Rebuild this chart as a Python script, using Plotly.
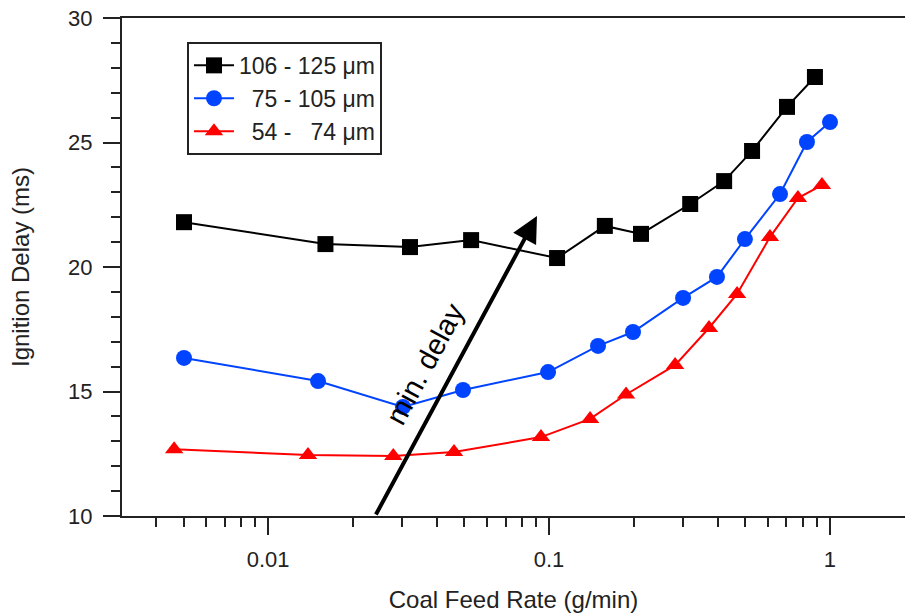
import plotly.graph_objects as go
import math

# ---- data ----
feed_106_125 = [0.00502, 0.0160, 0.0320, 0.0528, 0.1068, 0.158, 0.2125, 0.318, 0.420, 0.528, 0.703, 0.884]
delay_106_125 = [21.8, 20.92, 20.80, 21.08, 20.36, 21.65, 21.33, 22.53, 23.45, 24.66, 26.43, 27.63]

feed_75_105 = [0.00502, 0.01506, 0.0302, 0.0494, 0.0992, 0.1494, 0.199, 0.300, 0.396, 0.498, 0.664, 0.828, 1.0]
delay_75_105 = [16.35, 15.42, 14.38, 15.06, 15.78, 16.83, 17.39, 18.76, 19.60, 21.12, 22.93, 25.02, 25.82]

feed_54_74 = [0.00463, 0.01387, 0.0279, 0.0459, 0.0936, 0.140, 0.188, 0.281, 0.371, 0.467, 0.6115, 0.769, 0.9365]
delay_54_74 = [12.68, 12.45, 12.41, 12.57, 13.17, 13.90, 14.88, 16.06, 17.55, 18.92, 21.20, 22.77, 23.29]

series_names = ["106 - 125 \u03bcm", "\u00a0\u00a075 - 105 \u03bcm", "\u00a0\u00a054 -\u00a0\u00a0 74 \u03bcm"]

x_tick_vals = [0.01, 0.1, 1]
x_tick_text = ["0.01", "0.1", "1"]
y_tick_vals = [10, 15, 20, 25, 30]

arrow_tail = (0.02404, 10.0)
arrow_head = (0.0906, 22.05)
arrow_label = "min. delay"
arrow_label_pos = (0.0362, 16.1)

FONT = "Arial, Liberation Sans, sans-serif"

fig = go.Figure()
styles = [
    ("#000000", "square"),
    ("#0044ff", "circle"),
    ("#ff0000", "triangle-up"),
]
for (xs, ys), name, (col, sym) in zip(
    [(feed_106_125, delay_106_125), (feed_75_105, delay_75_105), (feed_54_74, delay_54_74)],
    series_names, styles):
    fig.add_trace(go.Scatter(
        x=xs, y=ys, name=name, mode="lines+markers",
        line=dict(color=col, width=2),
        marker=dict(symbol=sym, size=16, color=col),
    ))

minor_x = []
for dec in [0.001, 0.01, 0.1, 1]:
    for k in range(2, 10):
        minor_x.append(dec * k)

fig.update_xaxes(
    type="log", range=[-2.52, 0.267],
    tickmode="array", tickvals=x_tick_vals, ticktext=x_tick_text,
    ticks="outside", ticklen=17, tickwidth=2, tickcolor="#222",
    showline=True, linecolor="#222", linewidth=2, mirror=True,
    showgrid=False, zeroline=False,
    tickfont=dict(family=FONT, size=22, color="#222"),
    ticklabelstandoff=6,
    minor=dict(tickmode="array", tickvals=minor_x, ticks="outside", ticklen=9,
               tickwidth=2, tickcolor="#222", showgrid=False),
    title=dict(text="Coal Feed Rate (g/min)", font=dict(family=FONT, size=24, color="#222"), standoff=20),
)
fig.update_yaxes(
    range=[10, 30],
    tickmode="array", tickvals=y_tick_vals,
    ticks="outside", ticklen=17, tickwidth=2, tickcolor="#222",
    showline=True, linecolor="#222", linewidth=2, mirror=False,
    showgrid=False, zeroline=False,
    tickfont=dict(family=FONT, size=22, color="#222"),
    ticklabelstandoff=6,
    minor=dict(dtick=1, ticks="outside", ticklen=9, tickwidth=2, tickcolor="#222", showgrid=False),
    title=dict(text="Ignition Delay (ms)", font=dict(family=FONT, size=24, color="#222"), standoff=32),
)

fig.add_annotation(
    x=math.log10(arrow_head[0]), y=arrow_head[1],
    ax=math.log10(arrow_tail[0]), ay=arrow_tail[1],
    xref="x", yref="y", axref="x", ayref="y",
    showarrow=True, arrowhead=2, arrowsize=1.3, arrowwidth=4, arrowcolor="#000",
    text="",
)
fig.add_annotation(
    x=math.log10(arrow_label_pos[0]), y=arrow_label_pos[1],
    xref="x", yref="y", text=arrow_label, showarrow=False,
    textangle=-61.7, font=dict(family=FONT, size=29, color="#000"),
)

fig.update_layout(
    width=905, height=615,
    margin=dict(l=122, r=0, t=18, b=99),
    paper_bgcolor="white", plot_bgcolor="white",
    showlegend=True,
    legend=dict(
        x=0.083, y=0.952, xanchor="left", yanchor="top",
        bordercolor="#222", borderwidth=2, bgcolor="white",
        font=dict(family=FONT, size=23, color="#222"),
        itemwidth=40, tracegroupgap=0,
    ),
)

fig.write_html("out.html")
